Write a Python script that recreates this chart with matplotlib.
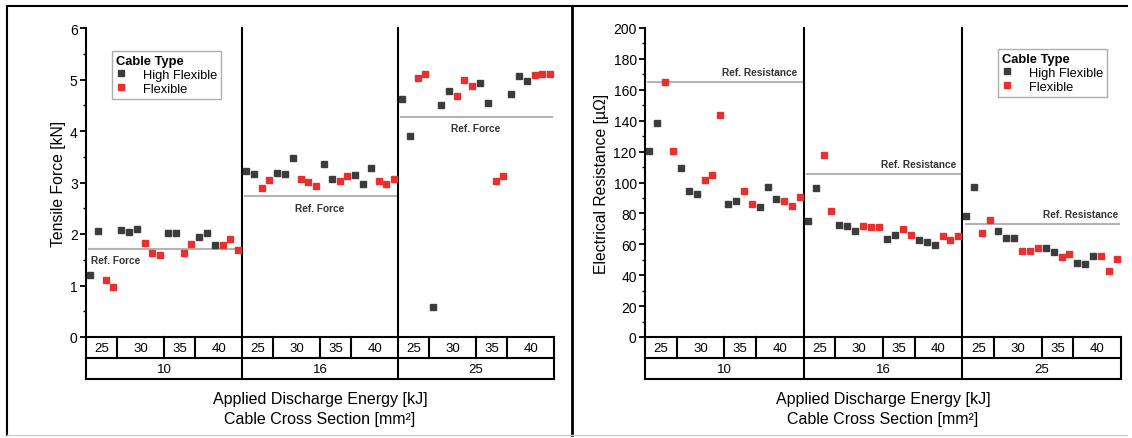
import matplotlib
matplotlib.use('Agg')
import matplotlib.pyplot as plt
from matplotlib.lines import Line2D
from matplotlib.ticker import MultipleLocator

plt.rcParams['font.family'] = ['Liberation Sans', 'DejaVu Sans']

# categories
sections = ['10', '16', '25']          # cable cross section [mm²]
energies = ['25', '30', '35', '40']    # applied discharge energy [kJ]
samples = [2, 3, 2, 3]                 # specimens per energy and cable type

# tensile force [kN], one row per cross section
force_hf = [
    [1.20, 2.06, 2.08, 2.03, 2.10, 2.02, 2.02, 1.94, 2.02, 1.78],
    [3.23, 3.17, 3.18, 3.16, 3.47, 3.35, 3.07, 3.14, 2.98, 3.28],
    [4.62, 3.91, 0.59, 4.51, 4.77, 4.94, 4.55, 4.71, 5.06, 4.97],
]
force_f = [
    [1.10, 0.97, 1.82, 1.64, 1.60, 1.63, 1.80, 1.78, 1.91, 1.68],
    [2.90, 3.05, 3.07, 3.01, 2.93, 3.02, 3.12, 3.03, 2.97, 3.06],
    [5.02, 5.10, 4.67, 5.00, 4.88, 3.02, 3.12, 5.09, 5.11, 5.11],
]
force_ref = [1.71, 2.73, 4.27]

# electrical resistance [µOhm]
res_hf = [
    [120.7, 138.4, 109.3, 94.2, 92.7, 85.8, 87.9, 84.3, 97.4, 89.4],
    [75.0, 96.5, 72.8, 72.0, 68.5, 63.4, 65.9, 62.7, 61.2, 59.3],
    [78.2, 96.8, 68.5, 64.2, 64.4, 57.5, 55.2, 48.1, 47.2, 52.4],
]
res_f = [
    [164.9, 120.7, 101.3, 105.0, 143.7, 94.6, 85.8, 88.1, 84.7, 90.3],
    [118.1, 81.5, 71.8, 70.9, 70.9, 70.0, 66.2, 65.3, 62.5, 65.1],
    [67.5, 75.6, 55.6, 55.6, 57.5, 51.9, 53.4, 52.2, 42.7, 50.6],
]
res_ref = [165.0, 105.6, 73.1]

HF_COLOR = '#3c3c3c'
F_COLOR = '#e8302f'
REF_COLOR = '#b4b4b4'
GROUP = 2 * sum(samples)  # slots per cross section


def positions(g):
    xs_hf, xs_f = [], []
    off = g * GROUP
    for n in samples:
        xs_hf += [off + j + 0.5 for j in range(n)]
        xs_f += [off + n + j + 0.5 for j in range(n)]
        off += 2 * n
    return xs_hf, xs_f


def draw_panel(ax, hf, f, ref, ref_label, ymax, major, minor, ylabel, text_style):
    for g in range(len(sections)):
        xh, xf = positions(g)
        ax.plot(xh, hf[g], 's', color=HF_COLOR, ms=5, mec=HF_COLOR,
                label='High Flexible' if g == 0 else None, zorder=3)
        ax.plot(xf, f[g], 's', color=F_COLOR, ms=5, mec=F_COLOR,
                label='Flexible' if g == 0 else None, zorder=3)
        ax.hlines(ref[g], g * GROUP + 0.3, g * GROUP + GROUP - 0.1,
                  color=REF_COLOR, lw=1.5, zorder=2)
        tx, ha, dy = text_style[g]
        ax.annotate(ref_label, (g * GROUP + tx, ref[g]), xytext=(0, dy),
                    textcoords='offset points', ha=ha, va='center',
                    fontsize=7.3, fontweight='bold', color='#333333')

    ntot = GROUP * len(sections)
    ax.set_xlim(0, ntot)
    ax.set_ylim(0, ymax)
    ax.set_xticks([])
    for s in ['top', 'right', 'bottom', 'left']:
        ax.spines[s].set_visible(False)
    ax.yaxis.set_major_locator(MultipleLocator(major))
    ax.yaxis.set_minor_locator(MultipleLocator(minor))
    ax.tick_params(axis='y', which='major', direction='out', length=4, width=1.3,
                   labelsize=10, pad=2)
    ax.tick_params(axis='y', which='minor', direction='out', length=2.5, width=1.0)
    ax.set_ylabel(ylabel, fontsize=11.3, labelpad=3)

    # category table under the axis
    tr = ax.get_xaxis_transform()
    r1, r2 = -0.068, -0.136
    kw = dict(color='black', lw=1.5, transform=tr, clip_on=False,
              solid_capstyle='projecting')
    ax.add_line(Line2D([0, 0], [r2, 1], **kw))
    ax.add_line(Line2D([ntot, ntot], [r2, 0], **kw))
    for y in [0, r1, r2]:
        ax.add_line(Line2D([0, ntot], [y, y], **kw))
    for g, sec in enumerate(sections):
        base = g * GROUP
        if g > 0:
            ax.add_line(Line2D([base, base], [r2, 1], **kw))
        off = base
        for k, n in enumerate(samples):
            if k > 0:
                ax.add_line(Line2D([off, off], [r1, 0], **kw))
            ax.text(off + n, r1 / 2, energies[k], transform=tr, ha='center',
                    va='center', fontsize=9.5)
            off += 2 * n
        ax.text(base + GROUP / 2, (r1 + r2) / 2, sec, transform=tr,
                ha='center', va='center', fontsize=9.5)
    ax.text(0.5, -0.2, 'Applied Discharge Energy [kJ]', transform=ax.transAxes,
            ha='center', va='center', fontsize=11.5)
    ax.text(0.5, -0.265, 'Cable Cross Section [mm²]', transform=ax.transAxes,
            ha='center', va='center', fontsize=11.5)


fig = plt.figure(figsize=(11.32, 4.39), dpi=100)
ax1 = fig.add_axes([86 / 1132, 1 - 338 / 439, 468 / 1132, 309 / 439])
ax2 = fig.add_axes([645 / 1132, 1 - 338 / 439, 476 / 1132, 309 / 439])

draw_panel(ax1, force_hf, force_f, force_ref, 'Ref. Force', 6, 1, 0.5,
           'Tensile Force [kN]',
           [(0.6, 'left', -8), (GROUP / 2, 'center', -8), (GROUP / 2, 'center', -8)])
draw_panel(ax2, res_hf, res_f, res_ref, 'Ref. Resistance', 200, 20, 10,
           'Electrical Resistance [µΩ]',
           [(19.2, 'right', 7), (19.2, 'right', 7), (19.6, 'right', 7)])

for ax, anchor in [(ax1, (0.0556, 0.926)), (ax2, (0.742, 0.932))]:
    leg = ax.legend(title='Cable Type', loc='upper left', bbox_to_anchor=anchor,
                    borderaxespad=0, fontsize=9.3,
                    title_fontproperties={'weight': 'bold', 'size': 9.3},
                    frameon=True, fancybox=False, edgecolor='#999999',
                    handletextpad=1.3, handlelength=0.8, markerscale=0.85,
                    borderpad=0.3, labelspacing=0.15, alignment='left')
    leg.get_frame().set_linewidth(1.0)

# outer frame of the two panels
fig.add_artist(Line2D([7 / 1132, 1127 / 1132], [1 - 7 / 439] * 2, color='black', lw=1.5))
fig.add_artist(Line2D([7 / 1132] * 2, [1 - 7 / 439, 1 - 436 / 439], color='black', lw=1.5))
fig.add_artist(Line2D([572 / 1132] * 2, [1 - 7 / 439, 1 - 436 / 439], color='black', lw=2))
fig.add_artist(Line2D([7 / 1132, 1127 / 1132], [1 - 436 / 439] * 2, color='#cccccc', lw=1.0))

fig.savefig('out.png', dpi=100)
